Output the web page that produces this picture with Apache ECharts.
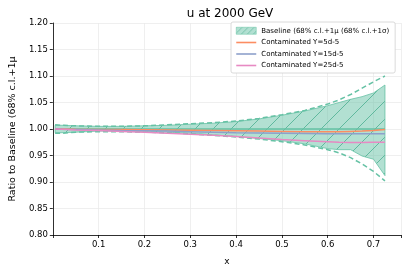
<!DOCTYPE html>
<html><head><meta charset="utf-8">
<script src="https://cdn.jsdelivr.net/npm/echarts@6/dist/echarts.min.js"></script>
<style>html,body{margin:0;padding:0;background:#fff}#c{width:407px;height:272px}</style>
</head><body><div id="c"></div>
<script>
const xs        = [0.005, 0.02, 0.05, 0.1, 0.15, 0.2, 0.25, 0.3, 0.35, 0.4, 0.45, 0.5, 0.55, 0.6, 0.625, 0.65, 0.675, 0.7, 0.725];
const fillUpper = [1.007, 1.007, 1.006, 1.005, 1.005, 1.006, 1.007, 1.009, 1.011, 1.014, 1.019, 1.026, 1.034, 1.044, 1.050, 1.056, 1.061, 1.068, 1.083];
const fillLower = [0.993, 0.993, 0.994, 0.996, 0.996, 0.995, 0.994, 0.992, 0.989, 0.986, 0.982, 0.978, 0.972, 0.963, 0.961, 0.961, 0.949, 0.943, 0.912];
const dashUpper = [1.008, 1.007, 1.006, 1.005, 1.005, 1.006, 1.008, 1.010, 1.012, 1.015, 1.020, 1.027, 1.035, 1.047, 1.055, 1.065, 1.077, 1.089, 1.100];
const dashLower = [0.992, 0.992, 0.994, 0.995, 0.995, 0.994, 0.993, 0.991, 0.988, 0.985, 0.981, 0.976, 0.970, 0.961, 0.955, 0.946, 0.934, 0.920, 0.902];
const baseline  = [1.000, 1.000, 1.000, 1.000, 1.000, 1.000, 1.000, 1.000, 1.000, 1.000, 1.000, 1.000, 1.000, 1.000, 1.000, 1.000, 1.000, 1.000, 1.000];
const y5  = [1.000, 1.000, 0.9995, 0.999, 0.999, 0.9985, 0.998, 0.9975, 0.997, 0.9965, 0.996, 0.9955, 0.995, 0.995, 0.995, 0.9955, 0.996, 0.997, 0.999];
const y15 = [1.000, 0.9995, 0.999, 0.998, 0.997, 0.9965, 0.996, 0.995, 0.994, 0.993, 0.9925, 0.992, 0.9915, 0.991, 0.991, 0.991, 0.991, 0.991, 0.991];
const y25 = [1.000, 0.9995, 0.998, 0.997, 0.9955, 0.994, 0.992, 0.990, 0.988, 0.986, 0.983, 0.980, 0.978, 0.976, 0.975, 0.9745, 0.9745, 0.975, 0.975];
const names = ['Baseline (68% c.l.+1μ (68% c.l.+1σ)', 'Contaminated Y=5d-5', 'Contaminated Y=15d-5', 'Contaminated Y=25d-5'];
const colors = ['#66c2a5', '#fc8d62', '#8da0cb', '#e78ac3'];

function hatch(size, lw) {
  const c = document.createElement('canvas');
  c.width = size; c.height = size;
  const g = c.getContext('2d');
  g.fillStyle = 'rgba(102,194,165,0.5)';
  g.fillRect(0, 0, size, size);
  g.strokeStyle = 'rgba(75,175,145,1)';
  g.lineWidth = lw;
  g.beginPath();
  g.moveTo(-2, size + 2); g.lineTo(size + 2, -2);
  g.stroke();
  return c;
}
const pat = { image: hatch(18, 0.8), repeat: 'repeat' };
const patSmall = { image: hatch(6, 0.6), repeat: 'repeat' };

const pairs = a => xs.map((x, i) => [x, a[i]]);
const font = 'DejaVu Sans';
const lineIcon = 'path://M0,0H20V1.6H0Z';
const chart = echarts.init(document.getElementById('c'));
chart.setOption({
  animation: false,
  title: { text: 'u at 2000 GeV', left: 225, textAlign: 'center', top: 3,
    textStyle: { fontFamily: font, fontSize: 12, fontWeight: 'normal', color: '#000' } },
  grid: { left: 49, right: 6, top: 23, bottom: 37 },
  legend: {
    orient: 'vertical', left: 231, top: 22, padding: [5, 6, 4, 5],
    itemWidth: 20, itemHeight: 7, itemGap: 4.5,
    backgroundColor: '#fff', borderColor: '#d0d0d0', borderWidth: 0.8, borderRadius: 2,
    textStyle: { fontFamily: font, fontSize: 7, color: '#000' },
    data: [
      { name: names[0], icon: 'rect', itemStyle: { color: patSmall, borderColor: '#66c2a5', borderWidth: 0.5 } },
      { name: names[1], icon: lineIcon },
      { name: names[2], icon: lineIcon },
      { name: names[3], icon: lineIcon }
    ]
  },
  xAxis: {
    type: 'value', min: 0, max: 0.76, interval: 0.1,
    name: 'x', nameLocation: 'middle', nameGap: 22,
    nameTextStyle: { fontFamily: font, fontSize: 9, color: '#000' },
    axisLine: { lineStyle: { color: '#000', width: 0.8 } },
    axisTick: { length: 3, lineStyle: { color: '#000', width: 0.8 } },
    axisLabel: { fontFamily: font, fontSize: 8.5, color: '#000', margin: 5,
      formatter: v => (v < 0.05 || v > 0.75) ? '' : v.toFixed(1) },
    splitLine: { show: true, lineStyle: { color: '#ebebeb', width: 0.8 } }
  },
  yAxis: {
    type: 'value', min: 0.8, max: 1.2, interval: 0.05,
    name: 'Ratio to Baseline (68% c.l.+1μ', nameLocation: 'middle', nameGap: 34,
    nameTextStyle: { fontFamily: font, fontSize: 9.5, color: '#000' },
    axisLine: { show: true, lineStyle: { color: '#000', width: 0.8 } },
    axisTick: { show: true, length: 3, lineStyle: { color: '#000', width: 0.8 } },
    axisLabel: { fontFamily: font, fontSize: 8.5, color: '#000', margin: 5, formatter: v => v.toFixed(2) },
    splitLine: { show: true, lineStyle: { color: '#ebebeb', width: 0.8 } }
  },
  series: [
    {
      name: names[0], type: 'custom', z: 2,
      data: xs.map((x, i) => [x, fillLower[i], fillUpper[i]]),
      encode: { x: 0, y: [1, 2] },
      itemStyle: { color: patSmall },
      renderItem: function (params, api) {
        if (params.dataIndex !== 0) return;
        const pts = [];
        for (let i = 0; i < xs.length; i++) pts.push(api.coord([xs[i], fillUpper[i]]));
        for (let i = xs.length - 1; i >= 0; i--) pts.push(api.coord([xs[i], fillLower[i]]));
        return { type: 'polygon', shape: { points: pts },
          style: { fill: pat, stroke: '#66c2a5', lineWidth: 0.8 } };
      }
    },
    { name: 'dashU', type: 'line', data: pairs(dashUpper), symbol: 'none', z: 3,
      lineStyle: { color: '#66c2a5', width: 1.5, type: [5, 3] } },
    { name: 'dashL', type: 'line', data: pairs(dashLower), symbol: 'none', z: 3,
      lineStyle: { color: '#66c2a5', width: 1.5, type: [5, 3] } },
    { name: 'center', type: 'line', data: pairs(baseline), symbol: 'none', z: 3,
      lineStyle: { color: '#66c2a5', width: 1.3 } },
    { name: names[1], type: 'line', data: pairs(y5), symbol: 'none', z: 4, color: colors[1],
      lineStyle: { color: colors[1], width: 1.5 } },
    { name: names[2], type: 'line', data: pairs(y15), symbol: 'none', z: 4, color: colors[2],
      lineStyle: { color: colors[2], width: 1.5 } },
    { name: names[3], type: 'line', data: pairs(y25), symbol: 'none', z: 4, color: colors[3],
      lineStyle: { color: colors[3], width: 1.5 } }
  ]
});
</script></body></html>
